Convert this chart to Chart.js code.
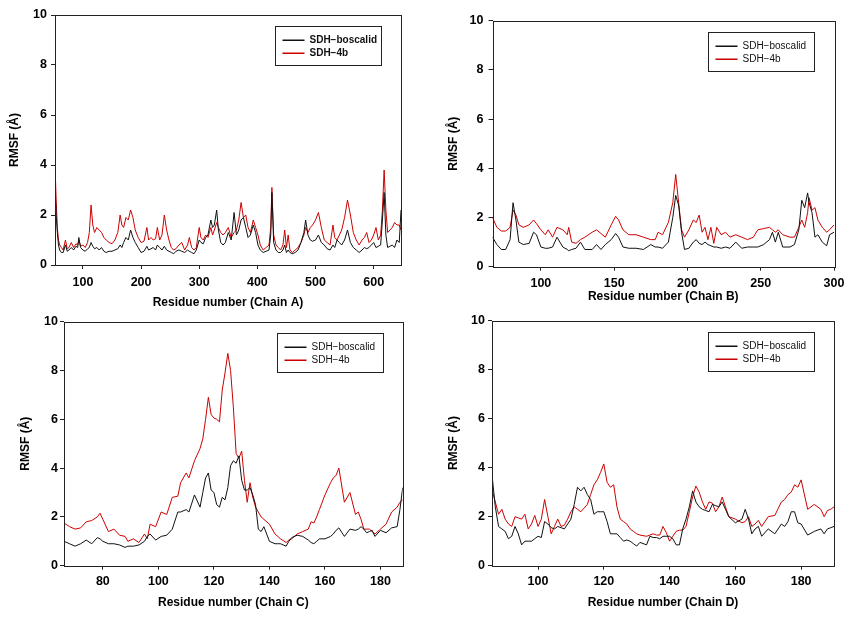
<!DOCTYPE html>
<html><head><meta charset="utf-8">
<script src="https://cdn.jsdelivr.net/npm/chart.js@4/dist/chart.umd.min.js"></script>
<style>
html,body{margin:0;padding:0;background:#fff;width:857px;height:619px;overflow:hidden}
canvas{position:absolute}
</style></head><body>
<canvas id="cA" width="430" height="310" style="left:0;top:0"></canvas>
<canvas id="cB" width="427" height="310" style="left:430px;top:0"></canvas>
<canvas id="cC" width="430" height="309" style="left:0;top:310px"></canvas>
<canvas id="cD" width="427" height="309" style="left:430px;top:310px"></canvas>
<script>
// ---------- DATA ----------
const seriesNames = ["SDH\u2212boscalid", "SDH\u22124b"];
const yTicks = [0, 2, 4, 6, 8, 10];
const xTicksA = [100, 200, 300, 400, 500, 600];
const xTicksB = [100, 150, 200, 250, 300];
const xTicksC = [80, 100, 120, 140, 160, 180];
const xTicksD = [100, 120, 140, 160, 180];

const residuesA = [52,54,56,58,60,63,66,70,73,76, 80,84,88,91,93,96,100,104,108,111, 114,117,120,124,128,132,136,140,145,150,
 155,160,164,167,170,174,178,182,186,190, 195,200,205,210,213,217,221,225,228,232, 236,240,244,248,252,256,260,265,270,275,
 280,283,287,291,295,300,303,307,311,315, 320,323,326,330,333,337,341,345,350,355, 360,364,368,372,376,380,384,388,393,397,
 401,405,410,415,420,423,425,428,432,436, 440,444,447,450,453,456,460,465,470,475, 480,483,487,491,495,500,505,510,515,520,
 525,530,533,537,541,545,550,555,560,565, 570,575,580,584,588,592,596,600,604,608, 612,615,618,621,624,628,632,636,640,644, 647];
const fourbA = [4.0,2.6,1.5,1.0,0.8,0.7,0.6,1.0,0.65,0.7, 0.9,0.7,0.85,0.8,1.0,0.75,0.8,0.7,0.9,1.3, 2.4,1.6,1.3,1.5,1.4,1.3,1.1,1.0,0.9,0.85,
 1.0,1.3,2.0,1.6,1.5,1.9,1.8,2.2,1.9,1.4, 1.1,0.9,0.95,1.5,1.0,1.1,1.0,1.05,1.5,1.0, 1.2,2.0,1.4,1.0,0.7,0.6,0.65,0.8,0.9,0.6,
 0.8,1.1,0.7,0.6,0.7,1.5,1.1,1.0,1.2,1.1, 1.5,1.2,1.4,1.7,1.5,1.3,1.2,1.3,1.5,1.1, 1.3,1.4,1.8,2.5,1.9,2.0,1.5,1.3,1.8,1.5,
 1.2,0.8,0.6,0.7,0.8,1.5,3.1,1.2,0.8,0.7, 0.6,0.8,1.4,0.7,1.2,0.6,0.5,0.6,0.7,0.9, 1.2,1.5,1.3,1.5,1.6,1.8,2.1,1.5,1.0,0.9,
 0.8,1.6,1.1,1.0,1.2,1.4,1.9,2.6,2.0,1.3, 1.0,0.8,1.0,1.1,1.3,0.9,1.0,1.2,1.5,1.0, 1.2,2.2,3.8,2.2,1.3,1.4,1.5,1.7,1.6,1.6, 1.4];
const boscalidA = [3.2,2.0,1.3,0.8,0.6,0.5,0.5,0.8,0.55,0.6, 0.7,0.6,0.75,0.7,1.1,0.7,0.6,0.55,0.65,0.7, 0.9,0.75,0.65,0.7,0.6,0.7,0.55,0.5,0.55,0.55,
 0.6,0.65,0.8,0.7,0.9,1.1,1.0,1.4,1.1,0.9, 0.7,0.5,0.55,0.75,0.6,0.65,0.7,0.6,0.8,0.7, 0.6,0.75,0.6,0.55,0.5,0.45,0.55,0.6,0.55,0.5,
 0.6,0.55,0.5,0.45,0.6,1.0,0.9,0.85,1.1,1.2, 1.8,1.5,1.6,2.2,1.4,0.9,0.8,0.9,1.3,1.0, 2.1,1.2,1.4,1.8,1.9,1.5,1.1,1.2,1.6,1.3,
 0.8,0.6,0.5,0.55,0.6,1.2,2.9,0.9,0.6,0.5, 0.5,0.6,0.8,0.5,0.6,0.5,0.45,0.5,0.6,0.9, 1.3,1.8,1.2,1.0,0.95,1.0,1.2,0.9,0.8,0.65,
 0.6,0.8,0.7,1.0,0.9,0.8,1.0,1.4,0.9,0.7, 0.6,0.5,0.6,0.7,0.65,0.7,0.8,0.9,0.7,0.75, 0.8,1.8,2.9,1.2,0.7,0.75,0.8,0.7,1.0,0.9, 2.2];

const residuesB = [67,70,73,76,79,81,83,85,88,92, 95,97,100,103,105,108,111,113,115,118, 119,121,124,127,130,135,138,141,144,148,
 151,153,156,160,165,170,175,178,180,183, 187,190,192,194,196,198,201,204,206,208, 210,212,214,216,218,220,223,226,229,233,
 237,241,245,248,252,256,258,260,262,265, 270,273,276,278,280,282,283,285,287,289, 292,295,297,300];
const boscalidB = [1.2,0.9,0.7,0.7,1.1,2.6,1.9,1.0,0.9,0.95, 1.4,1.3,0.8,0.75,0.75,0.8,1.2,1.0,0.8,0.7, 0.65,0.7,0.75,1.0,0.7,0.7,0.9,0.7,0.9,1.1,
 1.35,1.2,0.8,0.75,0.75,0.7,0.9,0.8,0.8,0.75, 1.0,2.0,2.9,2.5,1.4,0.7,0.75,1.0,1.1,0.95, 0.9,1.0,0.9,0.85,0.8,0.8,0.75,0.8,0.75,1.0,
 0.75,0.8,0.8,0.8,0.9,1.1,1.4,1.0,1.4,0.8, 0.8,0.9,1.5,2.7,2.4,3.0,2.6,2.2,1.2,1.3, 1.0,0.85,1.3,1.4];
const fourbB = [2.0,1.6,1.45,1.45,1.6,2.3,2.1,1.7,1.6,1.7, 1.9,1.75,1.5,1.3,1.5,1.2,1.6,1.55,1.5,1.3, 1.6,1.0,0.95,1.1,1.2,1.4,1.5,1.35,1.2,1.7,
 2.05,1.9,1.5,1.3,1.3,1.2,1.1,1.1,1.4,1.3, 1.8,2.6,3.75,2.6,1.5,1.2,1.5,1.9,1.8,2.1, 1.4,1.6,1.1,1.6,0.95,1.6,1.3,1.4,1.2,1.3,
 1.2,1.1,1.2,1.5,1.55,1.6,1.5,1.4,1.5,1.3, 1.2,1.2,1.6,1.9,1.6,2.2,2.8,2.3,2.4,1.9, 1.6,1.4,1.5,1.7];

const residuesC = [66,68,70,72,74,76,78,79,80,82, 84,86,88,89,91,93,95,96,97,99, 101,103,105,107,108,110,111,113,115,116,
 117,118,119,120,121,122,123,124,125,126, 127,128,129,130,131,132,133,134,135,136, 137,138,140,142,143,144,146,147,148,150,
 152,154,155,156,157,158,160,162,163,164, 165,167,169,171,172,173,174,175,176,177, 178,180,182,184,186,187,188];
const fourbC = [1.75,1.6,1.5,1.55,1.8,1.85,2.0,2.15,1.9,1.4, 1.5,1.25,1.2,1.0,1.1,0.95,1.3,1.1,1.7,1.6, 2.2,2.1,2.8,2.85,3.4,3.8,3.6,4.3,4.8,5.2,
 6.0,6.9,6.2,6.05,6.0,5.9,7.2,7.9,8.7,8.0, 6.5,4.6,4.4,4.7,3.5,2.6,3.4,2.8,2.4,2.2, 2.0,1.9,1.7,1.3,1.2,1.1,0.95,1.05,1.1,1.3,
 1.4,1.5,1.8,1.75,2.0,2.3,2.9,3.4,3.6,3.7, 4.0,2.6,3.0,2.1,2.2,1.9,1.5,1.5,1.5,1.4, 1.3,1.5,1.7,2.2,2.4,2.6,2.7];
const boscalidC = [1.0,0.9,0.8,0.9,1.05,0.9,1.15,1.1,1.0,0.9, 0.9,0.85,0.75,0.8,0.8,0.85,1.0,1.2,1.3,1.05, 1.2,1.25,1.5,2.2,2.2,2.3,2.2,2.9,2.4,3.0,
 3.6,3.8,3.1,3.0,2.5,2.4,2.8,2.7,3.2,4.1, 4.3,4.2,4.5,3.5,3.1,3.1,3.2,2.9,2.5,1.5, 1.4,1.6,1.0,0.9,0.9,0.9,0.8,1.0,1.15,1.25,
 1.2,1.05,0.95,0.9,1.0,1.1,1.1,1.2,1.3,1.45, 1.55,1.2,1.5,1.45,1.5,1.6,1.5,1.35,1.4,1.45, 1.2,1.45,1.35,1.55,1.6,2.3,3.2];

const residuesD = [86,87,88,89,90,91,92,93,94,95, 96,97,98,99,100,101,102,103,104,105, 106,107,108,109,110,111,112,113,114,115,
 116,117,118,119,120,121,122,123,124,125, 126,127,128,129,130,131,133,134,135,136, 137,138,139,140,141,142,143,144,145,146,
 147,148,149,150,151,152,153,154,155,156, 157,158,160,162,163,164,165,166,167,168, 170,172,174,175,176,177,178,179,180,182,
 184,186,187,188,189,190];
const fourbD = [3.1,2.6,2.1,2.3,1.9,1.7,1.6,2.0,1.95,1.9, 2.1,1.5,1.7,2.05,1.6,1.9,2.7,2.0,1.3,1.6, 1.9,1.6,1.65,1.9,2.2,2.4,2.3,2.2,2.35,2.5,
 2.9,3.3,3.5,3.8,4.15,3.4,3.2,3.3,2.4,1.9, 1.8,1.7,1.5,1.4,1.3,1.25,1.2,1.25,1.3,1.25, 1.25,1.6,1.35,1.0,1.2,1.4,1.45,1.45,1.6,2.2,
 2.8,3.25,3.0,2.6,2.3,2.6,2.55,2.2,2.4,2.8, 2.4,2.0,1.9,1.75,1.8,2.0,1.6,1.7,1.85,1.6, 2.0,2.05,2.6,2.7,2.9,3.0,3.3,3.2,3.5,2.3,
 2.5,2.3,2.0,2.25,2.3,2.4];
const boscalidD = [3.7,2.4,1.6,1.5,1.4,1.1,1.2,1.6,1.3,0.85, 1.0,1.0,1.0,1.1,1.2,1.15,1.8,1.7,1.55,1.5, 1.6,1.55,1.5,1.7,1.9,2.5,3.2,3.05,3.2,2.9,
 2.7,2.1,2.2,2.2,2.2,1.8,1.3,1.3,1.3,1.15, 1.0,1.05,1.0,0.9,0.8,0.95,0.85,1.2,1.15,1.15, 1.1,1.2,1.2,1.2,1.1,0.85,0.85,1.5,1.9,2.4,
 3.05,2.6,2.4,2.3,2.25,2.2,2.5,2.45,2.4,2.6, 2.3,2.0,1.75,1.9,2.3,1.9,1.3,1.5,1.6,1.2, 1.5,1.3,1.7,1.6,1.8,2.2,2.2,1.75,1.7,1.25,
 1.4,1.5,1.3,1.5,1.55,1.6];

// ---------- STYLE / LAYOUT ----------
const COLORS = ["#111111", "#cc0000"];
const FONT = "'Liberation Sans', Arial, sans-serif";

const panels = [
  {id:"cA", w:430, h:310, area:{l:55, t:15, r:401, b:265}, xmin:52, xmax:647, xTicks:xTicksA,
   residues:residuesA, series:[boscalidA, fourbA], title:"Residue number (Chain A)",
   tickPadX:6, tickPadY:4, yTitlePad:7, xTitlePad:0, legendBold:true},
  {id:"cB", w:427, h:310, area:{l:62.5, t:20.7, r:404, b:266.7}, xmin:67, xmax:300, xTicks:xTicksB,
   residues:residuesB, series:[boscalidB, fourbB], title:"Residue number (Chain B)",
   tickPadX:5, tickPadY:5, yTitlePad:16, xTitlePad:6, legendBold:false},
  {id:"cC", w:430, h:309, area:{l:64, t:11.7, r:402.7, b:255.7}, xmin:66, xmax:188, xTicks:xTicksC,
   residues:residuesC, series:[boscalidC, fourbC], title:"Residue number (Chain C)",
   tickPadX:4, tickPadY:2, yTitlePad:18, xTitlePad:9, legendBold:false},
  {id:"cD", w:427, h:309, area:{l:62, t:9.3, r:404, b:255.7}, xmin:86, xmax:190, xTicks:xTicksD,
   residues:residuesD, series:[boscalidD, fourbD], title:"Residue number (Chain D)",
   tickPadX:4, tickPadY:3, yTitlePad:16, xTitlePad:9, legendBold:false}
];

const framePlugin = {
  id: "frame",
  afterDatasetsDraw(chart) {
    const a = chart.chartArea, ctx = chart.ctx;
    ctx.save();
    ctx.strokeStyle = "#222"; ctx.lineWidth = 1;
    ctx.strokeRect(Math.round(a.left) + 0.5, Math.round(a.top) + 0.5,
      Math.round(a.right - a.left), Math.round(a.bottom - a.top));
    ctx.restore();
  }
};

const boxLegend = {
  id: "boxLegend",
  afterDraw(chart, args, opts) {
    const a = chart.chartArea, ctx = chart.ctx;
    const w = 106, h = 39;
    const x = Math.round(a.right - 20 - w) + 0.5, y = Math.round(a.top + 11) + 0.5;
    ctx.save();
    ctx.fillStyle = "#fff"; ctx.fillRect(x, y, w, h);
    ctx.strokeStyle = "#222"; ctx.lineWidth = 1; ctx.strokeRect(x, y, w, h);
    ctx.font = (opts.bold ? "bold " : "") + "10px " + FONT;
    ctx.textBaseline = "middle"; ctx.textAlign = "left";
    chart.data.datasets.forEach((ds, i) => {
      const yy = Math.round(y + 13 + i * 13);
      ctx.fillStyle = COLORS[i];
      ctx.fillRect(x + 7, yy - 0.5, 22, 1.5);
      ctx.fillStyle = "#111"; ctx.fillText(ds.label, x + 34, yy);
    });
    ctx.restore();
  }
};

panels.forEach(p => {
  const datasets = p.series.map((vals, i) => ({
    label: seriesNames[i],
    data: p.residues.map((r, k) => ({x: r, y: vals[k]})),
    borderColor: COLORS[i],
    borderWidth: 1,
    pointRadius: 0,
    tension: 0,
    fill: false
  }));
  new Chart(document.getElementById(p.id), {
    type: "line",
    data: {datasets},
    plugins: [framePlugin, boxLegend],
    options: {
      responsive: false,
      animation: false,
      events: [],
      layout: {padding: {left: 0, top: p.area.t, right: p.w - p.area.r, bottom: 0}},
      plugins: {legend: {display: false}, tooltip: {enabled: false}, boxLegend: {bold: p.legendBold}},
      scales: {
        x: {
          type: "linear", min: p.xmin, max: p.xmax,
          afterBuildTicks: s => { s.ticks = p.xTicks.map(v => ({value: v})); },
          afterFit: s => { s.height = p.h - p.area.b; },
          border: {display: false},
          grid: {drawOnChartArea: false, drawTicks: true, tickLength: 4, color: "#222"},
          ticks: {padding: p.tickPadX, color: "#000",
                  font: {family: FONT, size: 12.5, weight: "bold"}, maxRotation: 0, autoSkip: false},
          title: {display: true, text: p.title, color: "#000", padding: {top: 0, bottom: p.xTitlePad},
                  font: {family: FONT, size: 12, weight: "bold"}}
        },
        y: {
          min: 0, max: 10,
          afterBuildTicks: s => { s.ticks = yTicks.map(v => ({value: v})); },
          afterFit: s => { s.width = p.area.l; },
          border: {display: false},
          grid: {drawOnChartArea: false, drawTicks: true, tickLength: 4, color: "#222"},
          ticks: {padding: p.tickPadY, color: "#000", font: {family: FONT, size: 12.5, weight: "bold"}},
          title: {display: true, text: "RMSF (\u00c5)", color: "#000", padding: {top: p.yTitlePad, bottom: 0},
                  font: {family: FONT, size: 12, weight: "bold"}}
        }
      }
    }
  });
});
</script>
</body></html>
